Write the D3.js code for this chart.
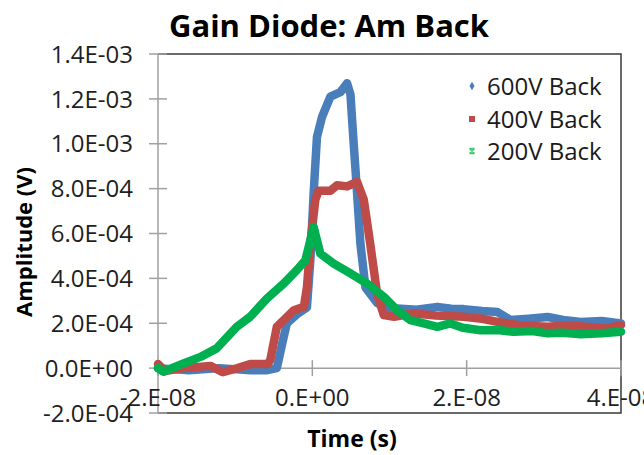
<!DOCTYPE html>
<html>
<head>
<meta charset="utf-8">
<script src="https://cdn.jsdelivr.net/npm/d3@7"></script>
<style>
  body { margin: 0; background: #fff; }
  text { font-family: "Open Sans", sans-serif; fill: #000; }
</style>
</head>
<body>
<div id="chart"></div>
<script>
// time in ns, amplitude in mV
var seriesNames = ["600V Back", "400V Back", "200V Back"];
var seriesColors = ["#4a7ebb", "#be4b48", "#00b050"];

var t600 = [-20, -16, -12, -8, -6, -4.6, -3.9, -3.3, -2.0, -0.7, -0.26, 0.17, 0.6, 1.26, 2.34, 3.64, 4.5, 4.94, 5.36, 5.8, 6.23, 6.88, 8.4, 10.1, 11.0, 13.5, 16.2, 18.0, 19.6, 22.0, 24.0, 25.7, 28.0, 30.5, 32.5, 34.8, 37.5, 40];
var a600 = [0.0, -0.01, 0.0, -0.01, -0.01, 0.0, 0.11, 0.2, 0.24, 0.27, 0.48, 0.78, 1.03, 1.12, 1.21, 1.23, 1.27, 1.22, 1.0, 0.78, 0.555, 0.36, 0.29, 0.26, 0.266, 0.26, 0.273, 0.265, 0.263, 0.255, 0.25, 0.214, 0.22, 0.228, 0.215, 0.206, 0.21, 0.199];

var t400 = [-20, -19.1, -16.8, -13.2, -11.6, -9.7, -8.05, -5.8, -5.45, -4.6, -3.7, -2.4, -1.1, -0.7, -0.26, 0.39, 0.8, 2.34, 3.2, 4.5, 5.8, 6.67, 7.5, 8.4, 9.26, 10.6, 13.0, 16.0, 19.6, 22.0, 24.0, 27.0, 30.5, 33.0, 35.5, 38.0, 40];
var a400 = [0.018, -0.013, 0.0, 0.01, -0.018, 0.0, 0.018, 0.018, 0.036, 0.184, 0.214, 0.258, 0.273, 0.36, 0.555, 0.75, 0.79, 0.79, 0.815, 0.81, 0.83, 0.75, 0.555, 0.33, 0.236, 0.229, 0.244, 0.235, 0.229, 0.22, 0.206, 0.19, 0.184, 0.19, 0.184, 0.177, 0.192];

var t200 = [-20, -19.3, -16.7, -14.5, -12.4, -9.8, -8.05, -5.9, -3.7, -2.0, -0.9, -0.26, 0.17, 0.6, 1.04, 2.77, 4.94, 7.1, 9.26, 11.0, 12.7, 14.45, 16.2, 17.9, 19.5, 21.8, 24.0, 26.1, 28.5, 30.5, 32.5, 34.8, 37.5, 40];
var a200 = [0.0, -0.016, 0.021, 0.05, 0.088, 0.184, 0.229, 0.31, 0.377, 0.437, 0.481, 0.57, 0.629, 0.57, 0.51, 0.466, 0.422, 0.377, 0.318, 0.258, 0.214, 0.199, 0.184, 0.199, 0.18, 0.169, 0.17, 0.162, 0.165, 0.155, 0.158, 0.151, 0.155, 0.162];

var xTicks = [-20, 0, 20, 40];
var xTickLabels = ["-2.E-08", "0.E+00", "2.E-08", "4.E-08"];
var yTicks = [-0.2, 0, 0.2, 0.4, 0.6, 0.8, 1.0, 1.2, 1.4];
var yTickLabels = ["-2.0E-04", "0.0E+00", "2.0E-04", "4.0E-04", "6.0E-04", "8.0E-04", "1.0E-03", "1.2E-03", "1.4E-03"];

var W = 644, H = 455;
var plot = {left: 158, right: 621, top: 54, bottom: 413};

var svg = d3.select("#chart").append("svg")
  .attr("width", W).attr("height", H);

var x = d3.scaleLinear().domain([-20, 40]).range([plot.left, plot.right]);
var y = d3.scaleLinear().domain([-0.2, 1.4]).range([plot.bottom, plot.top]);

// plot border (top, right, bottom)
svg.append("path")
  .attr("d", "M" + plot.left + "," + plot.top + "H" + plot.right + "V" + plot.bottom + "H" + plot.left)
  .attr("fill", "none").attr("stroke", "#3a3a3a").attr("stroke-width", 1.5);

// y axis, ticks crossing the line
var yAxis = svg.append("g");
yAxis.append("line")
  .attr("x1", plot.left).attr("x2", plot.left)
  .attr("y1", plot.top).attr("y2", plot.bottom)
  .attr("stroke", "#a0a0a0").attr("stroke-width", 1.5);
yAxis.selectAll(".yt").data(yTicks).enter().append("line")
  .attr("x1", plot.left - 9).attr("x2", plot.left + 9)
  .attr("y1", function(d) { return y(d); }).attr("y2", function(d) { return y(d); })
  .attr("stroke", "#a0a0a0").attr("stroke-width", 1.5);
yAxis.selectAll(".yl").data(yTicks).enter().append("text")
  .attr("x", 133)
  .attr("y", function(d) { return y(d); })
  .attr("dy", "0.36em")
  .attr("text-anchor", "end")
  .style("font-size", "24px")
  .style("fill", "#1f1f1f")
  .text(function(d, i) { return yTickLabels[i]; });

// x axis sits at zero
var xAxis = svg.append("g");
xAxis.append("line")
  .attr("x1", plot.left).attr("x2", plot.right)
  .attr("y1", y(0)).attr("y2", y(0))
  .attr("stroke", "#a0a0a0").attr("stroke-width", 1.5);
xAxis.selectAll(".xt").data(xTicks).enter().append("line")
  .attr("x1", function(d) { return x(d); }).attr("x2", function(d) { return x(d); })
  .attr("y1", y(0) - 8).attr("y2", y(0) + 8)
  .attr("stroke", "#a0a0a0").attr("stroke-width", 1.5);
xAxis.selectAll(".xl").data(xTicks).enter().append("text")
  .attr("x", function(d) { return x(d); })
  .attr("y", 397)
  .attr("dy", "0.36em")
  .attr("text-anchor", "middle")
  .style("font-size", "24px")
  .style("fill", "#1f1f1f")
  .text(function(d, i) { return xTickLabels[i]; });

// series
var allT = [t600, t400, t200];
var allA = [a600, a400, a200];
var line = d3.line()
  .x(function(d) { return x(d[0]); })
  .y(function(d) { return y(d[1]); });

for (var s = 0; s < 3; s++) {
  var pts = allT[s].map(function(t, i) { return [t, allA[s][i]]; });
  svg.append("path")
    .datum(pts)
    .attr("d", line)
    .attr("fill", "none")
    .attr("stroke", seriesColors[s])
    .attr("stroke-width", 8.5)
    .attr("stroke-linejoin", "round")
    .attr("stroke-linecap", "round");
}

// legend
var legend = svg.append("g");
var legY = [86, 119, 151];
seriesNames.forEach(function(name, i) {
  var g = legend.append("g").attr("transform", "translate(472," + legY[i] + ")");
  if (i == 0) {
    g.append("path").attr("d", d3.symbol().type(d3.symbolDiamond).size(22)).attr("fill", seriesColors[i]);
  } else if (i == 1) {
    g.append("rect").attr("x", -3).attr("y", -3).attr("width", 6).attr("height", 6).attr("fill", seriesColors[i]);
  } else {
    g.append("path").attr("d", "M-2.5,-2.5L2.5,2.5M-2.5,2.5L2.5,-2.5M-2.5,-2.5H2.5M-2.5,2.5H2.5")
      .attr("stroke", "#3cc870").attr("stroke-width", 1.6).attr("fill", "none");
  }
  g.append("text")
    .attr("x", 15).attr("dy", "0.36em")
    .style("font-size", "24px")
    .style("fill", "#1a1a1a")
    .text(name);
});

// titles
svg.append("text")
  .attr("x", 329).attr("y", 26).attr("dy", "0.36em")
  .attr("text-anchor", "middle")
  .style("font-size", "31px").style("font-weight", "bold")
  .text("Gain Diode: Am Back");

svg.append("text")
  .attr("x", 352).attr("y", 439).attr("dy", "0.36em")
  .attr("text-anchor", "middle")
  .style("font-size", "23px").style("font-weight", "bold")
  .text("Time (s)");

svg.append("text")
  .attr("transform", "translate(24,242) rotate(-90)")
  .attr("dy", "0.36em")
  .attr("text-anchor", "middle")
  .style("font-size", "22px").style("font-weight", "bold")
  .text("Amplitude (V)");
</script>
</body>
</html>
